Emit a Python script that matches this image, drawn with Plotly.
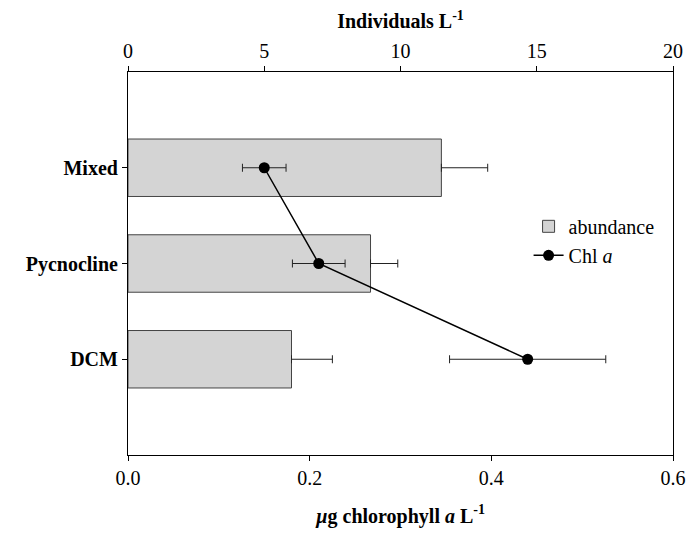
import plotly.graph_objects as go

categories = ["Mixed", "Pycnocline", "DCM"]
cat_pos = [0, 1, 2]
abundance = [11.5, 8.9, 6.0]
abundance_err = [1.7, 1.0, 1.5]
chl = [0.15, 0.21, 0.44]
chl_err = [0.024, 0.029, 0.086]
top_ticks = [0, 5, 10, 15, 20]
bottom_ticks = [0.0, 0.2, 0.4, 0.6]

FONT = "Liberation Serif"
FS = 20

fig = go.Figure()
fig.add_trace(go.Bar(
    x=abundance, y=cat_pos, orientation="h", width=0.6,
    name="abundance", xaxis="x", yaxis="y",
    marker=dict(color="#d4d4d4", line=dict(color="#444444", width=1)),
    error_x=dict(type="data", symmetric=False, array=abundance_err,
                 arrayminus=[0, 0, 0], color="#222222", thickness=1, width=4),
))
fig.add_trace(go.Scatter(
    x=chl, y=cat_pos, mode="lines+markers", name="Chl <i>a</i>",
    xaxis="x2", yaxis="y",
    line=dict(color="black", width=1.5),
    marker=dict(color="black", size=11),
    error_x=dict(type="data", array=chl_err, color="#222222", thickness=1, width=4),
))

axis_common = dict(showline=True, linecolor="black", linewidth=1.2,
                   ticks="outside", ticklen=5, tickcolor="black",
                   showgrid=False, zeroline=False, automargin=False,
                   tickfont=dict(family=FONT, size=FS, color="black"))

# page body has an 8px margin: compensate so the plot lands where the reference has it
fig.update_layout(
    width=690, height=527,
    margin=dict(l=120, r=25, t=64, b=80),
    paper_bgcolor="white", plot_bgcolor="white",
    showlegend=True,
    legend=dict(x=0.735, y=0.648, xanchor="left", yanchor="top",
                font=dict(family=FONT, size=FS, color="black"),
                bgcolor="rgba(0,0,0,0)", tracegroupgap=0),
    xaxis=dict(range=[0, 20], side="top", tickvals=top_ticks,
               title=dict(text="<b>Individuals L<sup>-1</sup></b>",
                          font=dict(family=FONT, size=FS, color="black"), standoff=16),
               **axis_common),
    xaxis2=dict(range=[0, 0.6], side="bottom", overlaying="x",
                tickvals=bottom_ticks, tickformat=".1f",
                title=dict(text="<b><i>\u00b5</i>g chlorophyll <i>a</i> L<sup>-1</sup></b>",
                           font=dict(family=FONT, size=FS, color="black"), standoff=20),
                **axis_common),
    yaxis=dict(range=[3, -1], tickvals=cat_pos, ticktext=categories,
               showline=True, linecolor="black", linewidth=1.2, mirror=True,
               ticks="outside", ticklen=5, tickcolor="black",
               showgrid=False, zeroline=False, automargin=False,
               tickfont=dict(family=FONT, size=FS, color="black", weight="bold")),
)

fig.write_html("out.html")
